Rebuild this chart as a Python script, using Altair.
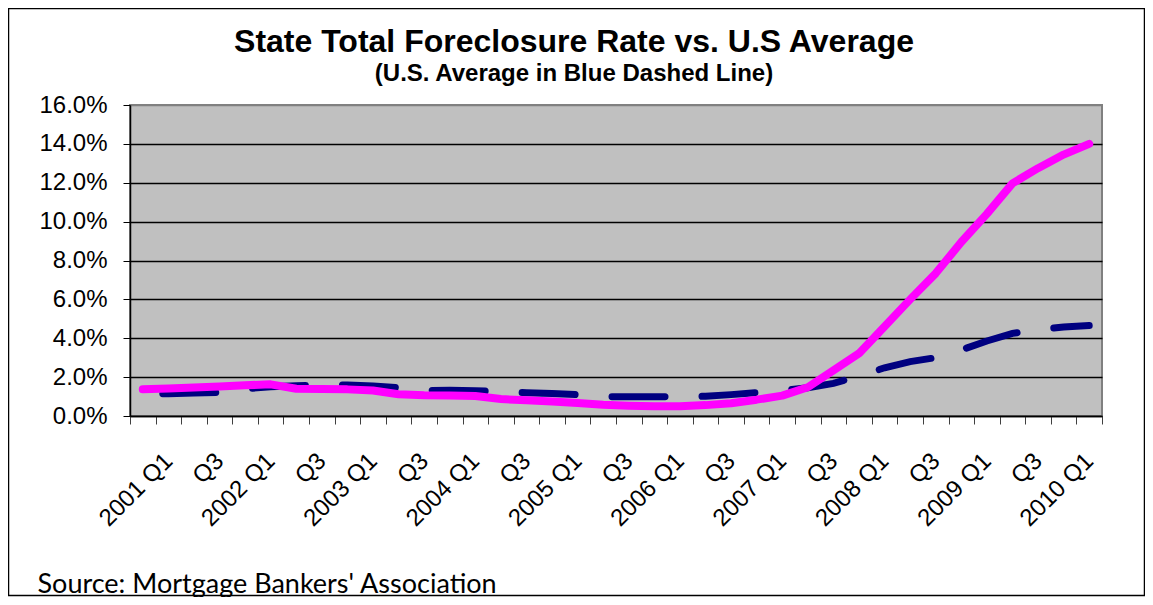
import altair as alt
import pandas as pd

quarters = [
    "2000 Q4",
    "2001 Q1", "Q2", "Q3", "Q4",
    "2002 Q1", "Q2", "Q3", "Q4",
    "2003 Q1", "Q2", "Q3", "Q4",
    "2004 Q1", "Q2", "Q3", "Q4",
    "2005 Q1", "Q2", "Q3", "Q4",
    "2006 Q1", "Q2", "Q3", "Q4",
    "2007 Q1", "Q2", "Q3", "Q4",
    "2008 Q1", "Q2", "Q3", "Q4",
    "2009 Q1", "Q2", "Q3", "Q4",
    "2010 Q1",
]

# State total foreclosure rate (%), pink line
state_rate = [
    1.37, 1.42, 1.47, 1.52, 1.58, 1.63, 1.40, 1.39, 1.37, 1.31,
    1.12, 1.07, 1.06, 1.03, 0.87, 0.81, 0.74, 0.67, 0.58, 0.53,
    0.50, 0.50, 0.56, 0.66, 0.84, 1.05, 1.48, 2.35, 3.22, 4.60,
    6.00, 7.34, 8.95, 10.40, 11.97, 12.75, 13.45, 14.00,
]

# U.S. average (%), blue dashed line
us_rate = [
    1.12, 1.15, 1.18, 1.22, 1.40, 1.50, 1.55, 1.60, 1.60, 1.55,
    1.45, 1.31, 1.33, 1.30, 1.25, 1.20, 1.16, 1.10, 1.00, 0.99,
    0.99, 0.98, 1.02, 1.10, 1.20, 1.32, 1.45, 1.68, 2.05, 2.48,
    2.80, 3.00, 3.40, 3.86, 4.25, 4.45, 4.58, 4.65,
]

y_ticks = [0, 0.02, 0.04, 0.06, 0.08, 0.10, 0.12, 0.14, 0.16]

n = len(quarters)
df = pd.DataFrame({
    "idx": list(range(n)),
    "quarter": quarters,
    "state": [v / 100 for v in state_rate],
    "us": [v / 100 for v in us_rate],
})

W, H = 972, 311
FONT = "Liberation Sans, Arial"

boundaries = [i - 0.5 for i in range(n + 1)]
arr = "[" + ",".join("'" + q + "'" for q in quarters) + "]"
label_expr = (
    f"(round(datum.value + 0.5) % 2 == 1 && round(datum.value + 0.5) < {n}) "
    f"? {arr}[round(datum.value + 0.5)] : ''"
)

x_enc = alt.X(
    "idx:Q",
    scale=alt.Scale(domain=[-0.5, n - 0.5], nice=False, zero=False),
    axis=alt.Axis(
        values=boundaries,
        tickCount=200,
        labelExpr=label_expr,
        labelAngle=-45,
        labelAlign="right",
        labelBaseline="middle",
        labelOffset=W / n / 2,
        labelFlush=False,
        labelOverlap=False,
        labelFont=FONT,
        labelFontSize=24,
        labelColor="black",
        labelPadding=33,
        tickSize=8,
        tickColor="#404040",
        tickWidth=1,
        domainColor="black",
        domainWidth=1.5,
        grid=False,
        title="Source: Mortgage Bankers' Association",
        titleFont="Lato",
        titleFontSize=27,
        titleFontWeight="normal",
        titleColor="black",
        titleAnchor="start",
        titleAlign="left",
        titleBaseline="alphabetic",
        titleX=-93,
        titleY=176,
    ),
)

y_axis = alt.Axis(
    values=y_ticks,
    tickCount=100,
    labelOverlap=False,
    format=".1%",
    labelFont=FONT,
    labelFontSize=24,
    labelColor="black",
    labelPadding=16,
    tickSize=7,
    tickColor="black",
    tickWidth=1,
    domainColor="black",
    domainWidth=1.5,
    grid=True,
    gridColor={"expr": "datum.value >= 0.159 ? '#808080' : 'black'"},
    gridWidth=1.5,
    title=None,
)

us_line = alt.Chart(df).mark_line(
    color="#000080",
    strokeWidth=7,
    strokeDash=[53, 37],
    strokeDashOffset=70,
    strokeCap="round",
).encode(
    x=x_enc,
    y=alt.Y("us:Q", scale=alt.Scale(domain=[0, 0.16], nice=False), axis=y_axis),
)

state_line = alt.Chart(df).mark_line(
    color="#FF00FF",
    strokeWidth=8,
    strokeCap="round",
    strokeJoin="round",
).encode(
    x="idx:Q",
    y="state:Q",
)

frame = alt.Chart(pd.DataFrame({"k": [0]})).mark_rect(
    fillOpacity=0,
    stroke="black",
    strokeWidth=1.5,
).encode(
    x=alt.value(-121.5),
    x2=alt.value(1014.5),
    y=alt.value(-96.5),
    y2=alt.value(490.5),
)

chart = alt.layer(us_line, state_line, frame).properties(
    width=W,
    height=H,
    autosize=alt.AutoSizeParams(type="none"),
    padding={"left": 122, "top": 97, "right": 43, "bottom": 181},
    background="white",
    title=alt.TitleParams(
        text="State Total Foreclosure Rate vs. U.S Average",
        subtitle="(U.S. Average in Blue Dashed Line)",
        font=FONT,
        fontSize=32,
        fontWeight="bold",
        color="black",
        subtitleFont=FONT,
        subtitleFontSize=24,
        subtitleFontWeight="bold",
        subtitleColor="black",
        anchor="middle",
        frame="group",
        dx=-42,
        offset=-79,
        subtitlePadding=3,
    ),
).configure_view(
    fill="#C0C0C0",
    stroke="#808080",
    strokeWidth=2,
)

chart.save("out.html", embed_options={"renderer": "svg", "actions": False})
